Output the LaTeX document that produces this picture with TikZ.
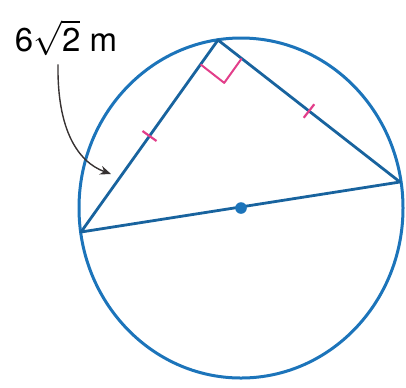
\documentclass[tikz,border=0pt]{standalone}
\usepackage{fontspec}
\setmainfont{TeX Gyre Heros}
\usetikzlibrary{arrows.meta, calc}
\definecolor{circB}{RGB}{28,116,186}
\definecolor{markP}{RGB}{226,62,138}
\definecolor{arrG}{RGB}{55,50,50}
\begin{document}
\begin{tikzpicture}[x=0.5pt, y=-0.5pt, line join=round]
\useasboundingbox (0,0) rectangle (406,387);
% ===== points: circle centre, triangle vertices =====
\coordinate (O) at (241,208);
\coordinate (A) at (81,232);
\coordinate (B) at (218,40);
\coordinate (C) at (400,182);
% circle
\draw[circB, line width=1.5pt] (O) ellipse [x radius=162, y radius=170];
% triangle and diameter
\draw[circB!85!black, line width=1.4pt] (A) -- (B) -- (C) -- cycle;
\fill[circB] (O) circle (2.9pt);
% right angle at B
\coordinate (ba) at ($(B)!15pt!(A)$);
\coordinate (bc) at ($(B)!15pt!(C)$);
\draw[markP, line width=1pt] (ba) -- ($(ba)+(bc)-(B)$) -- (bc);
% equal-length ticks
\foreach \p/\q in {A/B, B/C}{
  \coordinate (m) at ($(\p)!0.5!(\q)$);
  \draw[markP, line width=1.1pt] ($(m)!4.3pt!90:(\q)$) -- ($(m)!4.3pt!-90:(\q)$);
}
% ===== side label with arrow =====
\node[font=\fontsize{16.5}{20}\selectfont, inner sep=0pt] (lbl) at (66,38) {6$\sqrt{\mbox{2}}$ m};
\coordinate (tip) at (111,174);
\draw[arrG, line width=0.7pt, -{Stealth[length=5.5pt, width=4.5pt]}] ([xshift=-4pt, yshift=-4pt]lbl.south) .. controls (57,130) and (78,162) .. (tip);
\end{tikzpicture}
\end{document}
